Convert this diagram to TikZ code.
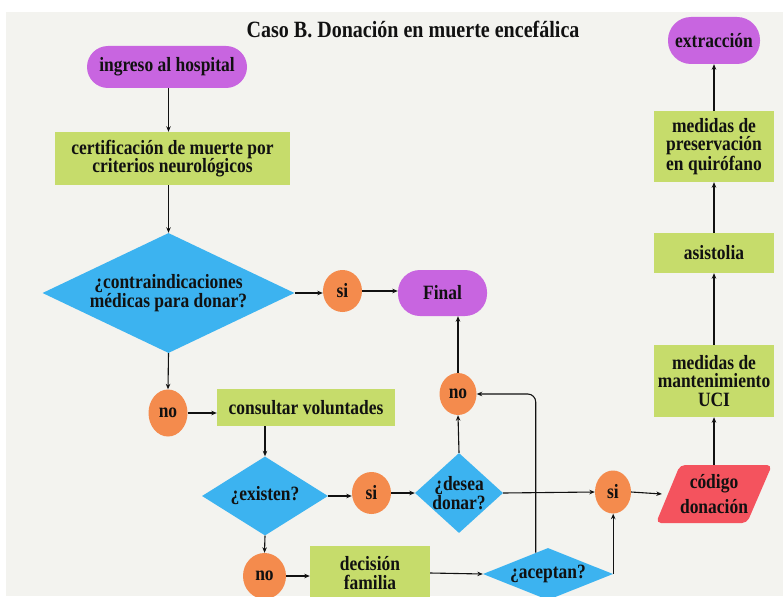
\documentclass[tikz,border=0pt]{standalone}
\usepackage{fontspec}
\setmainfont{Liberation Serif}[FakeStretch=0.86]
\usetikzlibrary{shapes.geometric,arrows.meta}

\definecolor{paper}{HTML}{F3F3EF}
\definecolor{termfill}{HTML}{C865E0}
\definecolor{procfill}{HTML}{C6DC6B}
\definecolor{askfill}{HTML}{3CB3F0}
\definecolor{ansfill}{HTML}{F48B4D}
\definecolor{codefill}{HTML}{F4535E}
\definecolor{ink}{HTML}{111111}

\tikzset{
  base/.style={font=\bfseries\fontsize{20.3}{18.5}\selectfont, text=ink, align=center, inner sep=0pt},
  term/.style={base, fill=termfill, rounded corners=21pt},
  procbox/.style={base, fill=procfill},
  ask/.style={base, diamond, fill=askfill},
  answer/.style={base, ellipse, fill=ansfill},
  arr/.style={draw=ink, line width=1.1pt, -{Stealth[length=5.5pt,width=4.5pt]}},
}

\begin{document}
\begin{tikzpicture}[x=1pt,y=-1pt]
  % page and backdrop
  \useasboundingbox (0,0) rectangle (783,596);
  \fill[white] (0,0) rectangle (783,596);
  \fill[paper] (6,12) rectangle (783,596);

  % heading
  \node[base, font=\bfseries\fontsize{23.3}{24}\selectfont] (title) at (413,29)
    {Caso B. Donación en muerte encefálica};

  % left column
  \node[term, minimum width=160, minimum height=42] (ing) at (167,67) {ingreso al hospital};
  \node[procbox, minimum width=235, minimum height=53] (cert) at (172.5,158.5)
    {certificación de muerte por\\criterios neurológicos};
  \node[ask, aspect=2.1, minimum width=252, minimum height=120] (contra) at (168.5,293)
    {¿contraindicaciones\\médicas para donar?};
  \node[answer, minimum width=39, minimum height=42] (si1) at (342.5,291) {si};
  \node[term, minimum width=89, minimum height=46, rounded corners=22pt] (fin) at (442.5,293) {Final};
  \node[answer, minimum width=39, minimum height=47] (no1) at (168,413) {no};
  \node[procbox, minimum width=178, minimum height=37] (cons) at (306,407.5) {consultar voluntades};

  % middle rows
  \node[ask, aspect=1.6, minimum width=126, minimum height=79] (ex) at (265,496) {¿existen?};
  \node[answer, minimum width=39, minimum height=42] (si2) at (371.5,493) {si};
  \node[ask, aspect=1.1, inner sep=-5pt, minimum width=88, minimum height=80] (des) at (459,493) {¿desea\\donar?};
  \node[answer, minimum width=37, minimum height=42] (nou) at (458,394) {no};
  \node[answer, minimum width=43, minimum height=46] (no2) at (264.5,576) {no};
  \node[procbox, minimum width=120, minimum height=54] (dec) at (370,573) {decisión\\familia};
  \node[ask, aspect=2.5, minimum width=130, minimum height=52] (acep) at (548,574) {¿aceptan?};
  \node[answer, minimum width=36, minimum height=43] (sir) at (613,492) {si};

  % donation code parallelogram
  \fill[codefill, rounded corners=5pt] (656,523) -- (680,465) -- (772,465) -- (747,523) -- cycle;
  \node[base, minimum width=104, minimum height=58] (cod) at (714,494) {código\\[5pt]donación};

  % right column
  \node[procbox, minimum width=120, minimum height=72] (mant) at (714,381)
    {medidas de\\mantenimiento\\UCI};
  \node[procbox, minimum width=120, minimum height=40] (asis) at (714,253) {asistolia};
  \node[procbox, minimum width=120, minimum height=71] (pres) at (714,146.5)
    {medidas de\\preservación\\en quirófano};
  \node[term, minimum width=92, minimum height=47, rounded corners=23pt] (ext) at (714,40.5) {extracción};

  % connectors
  \draw[arr] (ing.south -| contra.north) -- (cert.north -| contra.north);
  \draw[arr] (cert.south -| contra.north) -- (contra.north);
  \draw[arr] (contra.east) -- (contra.east -| si1.west);
  \draw[arr] (si1.east) -- (si1.east -| fin.west);
  \draw[arr] (contra.south) -- (no1.north);
  \draw[arr] (no1.east) -- (no1.east -| cons.west);
  \draw[arr] (cons.south -| ex.north) -- (ex.north);
  \draw[arr] (ex.east) -- (ex.east -| si2.west);
  \draw[arr] (si2.east) -- (des.west);
  \draw[arr] (des.north) -- (nou.south);
  \draw[arr] (nou.north) -- (nou.north |- fin.south);
  \draw[arr] (des.east) -- (sir.west);
  \draw[arr] (ex.south) -- (no2.north);
  \draw[arr] (no2.east) -- (no2.east -| dec.west);
  \draw[arr] (dec.east) -- (acep.west);
  \draw[arr, rounded corners=8pt] (acep.120) |- (nou.east);
  \draw[arr] (acep.east) -- (acep.east |- sir.south);
  \draw[arr] (sir.east) -- (cod.west);
  \draw[arr] (cod.north) -- (mant.south);
  \draw[arr] (mant.north) -- (asis.south);
  \draw[arr] (asis.north) -- (pres.south);
  \draw[arr] (pres.north) -- (ext.south);
\end{tikzpicture}
\end{document}
